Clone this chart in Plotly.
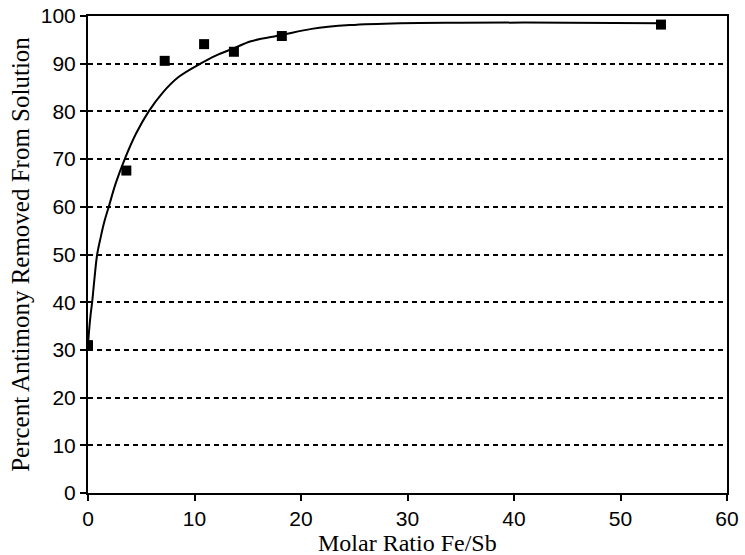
import plotly.graph_objects as go

# measured data points
ratio = [0.0, 3.6, 7.2, 10.9, 13.7, 18.2, 53.8]
removed = [31.0, 67.6, 90.6, 94.1, 92.5, 95.8, 98.2]

# fitted curve
curve_x = [0.0, 0.1, 0.25, 0.39, 0.6, 0.86, 1.2, 1.55, 1.95, 2.6, 3.45, 4.5, 5.7, 7.0, 8.5,
           10.55, 12.0, 13.65, 15.3, 18.2, 21.0, 24.6, 29.3, 35.0, 45.0, 53.8]
curve_y = [31.0, 34.0, 37.5, 40.0, 44.8, 50.0, 53.7, 57.0, 60.0, 64.9, 70.0, 75.3, 80.0, 83.9, 87.2,
           90.0, 91.7, 93.2, 94.7, 96.0, 97.3, 98.1, 98.5, 98.6, 98.6, 98.5]

x_ticks = [0, 10, 20, 30, 40, 50, 60]
y_ticks = [0, 10, 20, 30, 40, 50, 60, 70, 80, 90, 100]

x_title = "Molar Ratio Fe/Sb"
y_title = "Percent Antimony Removed From Solution"

fig = go.Figure()
fig.add_trace(go.Scatter(x=curve_x, y=curve_y, mode="lines",
                         line=dict(color="black", width=2, shape="spline", smoothing=1.0),
                         showlegend=False, hoverinfo="skip"))
fig.add_trace(go.Scatter(x=ratio, y=removed, mode="markers",
                         marker=dict(symbol="square", size=10, color="black"),
                         showlegend=False))

tickfont = dict(family="Liberation Sans, Arial, sans-serif", size=21, color="black")
titlefont = dict(family="Liberation Serif, Times New Roman, serif", size=24, color="black")

fig.update_xaxes(range=[0, 60], tickvals=x_ticks, ticks="outside", ticklen=6, tickwidth=2,
                 tickcolor="black", showline=True, linecolor="black", linewidth=2, mirror=True,
                 showgrid=False, zeroline=False, tickfont=tickfont, automargin=False,
                 ticklabeloverflow="allow")
fig.update_yaxes(range=[0, 100], tickvals=y_ticks, ticks="outside", ticklen=6, tickwidth=2,
                 tickcolor="black", showline=True, linecolor="black", linewidth=2, mirror=True,
                 showgrid=True, gridcolor="black", gridwidth=1.6, griddash="5px,4px",
                 zeroline=False, tickfont=tickfont, automargin=False,
                 ticklabeloverflow="allow",
                 title=dict(text=y_title, font=dict(titlefont, size=25), standoff=4))

fig.add_annotation(text=x_title, xref="paper", yref="paper", x=0.5, y=0,
                   xanchor="center", yanchor="middle", yshift=-50, showarrow=False,
                   font=titlefont)

fig.update_layout(width=745, height=555, margin=dict(l=88, r=18, t=16, b=62),
                  paper_bgcolor="white", plot_bgcolor="white")

fig.write_html("out.html", config={"displayModeBar": False},
               post_script="document.body.style.margin='0';document.body.style.overflow='hidden';")
